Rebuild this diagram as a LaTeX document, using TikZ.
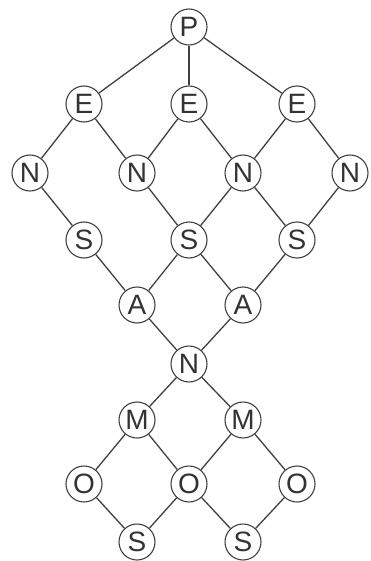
\documentclass[tikz,border=0pt]{standalone}
\usepackage{fontspec}
\setmainfont{Liberation Sans}
\usetikzlibrary{positioning}

\begin{document}
\begin{tikzpicture}[
    x=1pt,
    y=-1pt,
    letra/.style={
        circle,
        draw=black!75,
        line width=1.1pt,
        minimum size=36pt,
        inner sep=0pt,
        font=\fontsize{28}{28}\selectfont,
        text=black!80
    },
    liga/.style={
        line width=1.3pt,
        black!75
    }
]

\useasboundingbox (0,0) rectangle (371,561);

% Topo
\node[letra] (p) at (189,27) {P};

\node[letra] (e1) at (84,104) {E};
\node[letra] (e2) at (189,104) {E};
\node[letra] (e3) at (297,104) {E};

\node[letra] (n1) at (30,173) {N};
\node[letra] (n2) at (137,173) {N};
\node[letra] (n3) at (243,173) {N};
\node[letra] (n4) at (350,173) {N};

% Meio
\node[letra] (s1) at (84,240) {S};
\node[letra] (s2) at (189,240) {S};
\node[letra] (s3) at (297,240) {S};

\node[letra] (a1) at (137,305) {A};
\node[letra] (a2) at (243,305) {A};

\node[letra] (nc) at (189,364) {N};

% Base
\node[letra] (m1) at (137,420) {M};
\node[letra] (m2) at (243,420) {M};

\node[letra] (o1) at (84,484) {O};
\node[letra] (o2) at (189,484) {O};
\node[letra] (o3) at (297,484) {O};

\node[letra] (sb1) at (137,542) {S};
\node[letra] (sb2) at (243,542) {S};

% Ligacoes
\foreach \a/\b in {p/e1, p/e2, p/e3,
                   e1/n1, e1/n2, e2/n2, e2/n3, e3/n3, e3/n4,
                   n1/s1, n2/s2, n3/s2, n3/s3, n4/s3,
                   s1/a1, s2/a1, s2/a2, s3/a2,
                   a1/nc, a2/nc,
                   nc/m1, nc/m2,
                   m1/o1, m1/o2, m2/o2, m2/o3,
                   o1/sb1, o2/sb1, o2/sb2, o3/sb2}
    \draw[liga] (\a) -- (\b);

\end{tikzpicture}
\end{document}
